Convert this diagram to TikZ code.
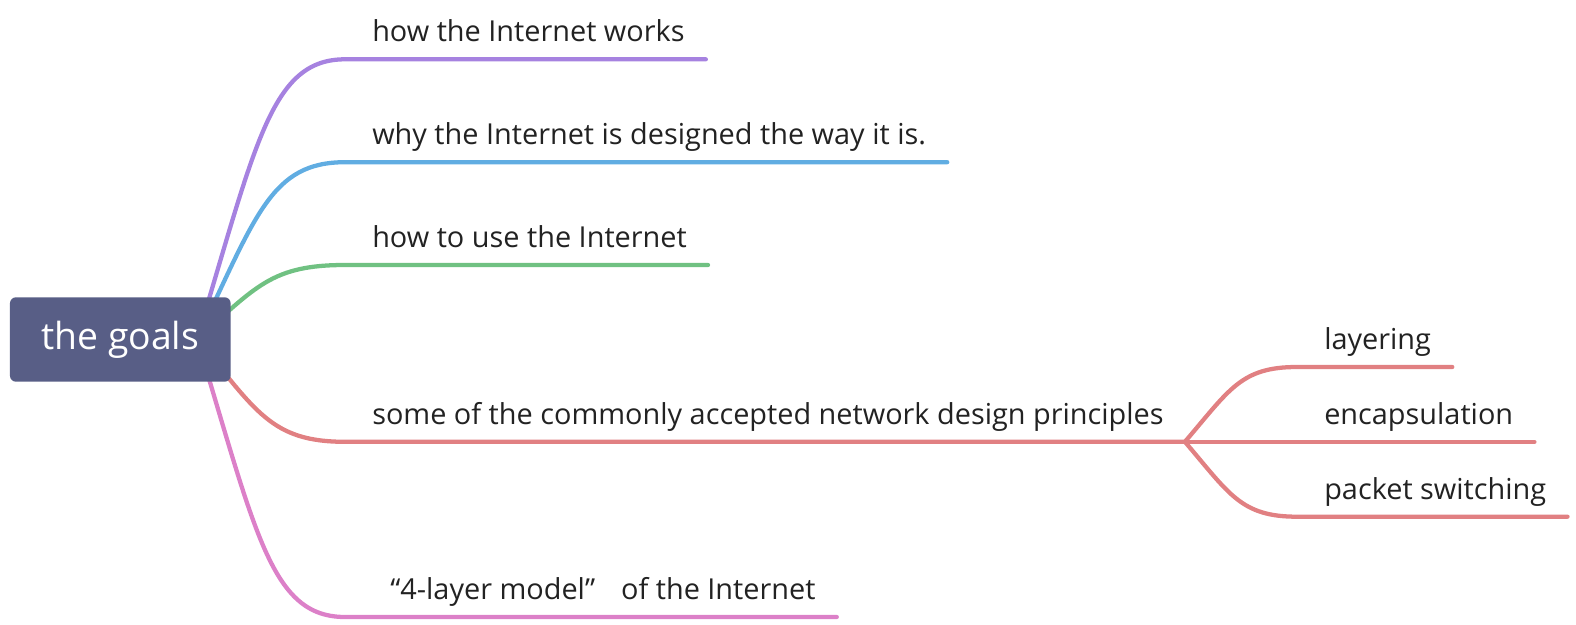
\documentclass[tikz,border=0pt]{standalone}
\usepackage{fontspec}
\setmainfont{Open Sans}
\usetikzlibrary{calc,backgrounds}
\definecolor{cpurple}{RGB}{166,130,224}
\definecolor{cblue}{RGB}{97,173,226}
\definecolor{cgreen}{RGB}{112,193,130}
\definecolor{cred}{RGB}{225,128,130}
\definecolor{cpink}{RGB}{220,128,200}
\definecolor{crootfill}{RGB}{88,94,134}
\definecolor{ctext}{RGB}{34,34,34}
\newcommand{\curvebranch}[4]{%
  \draw[#1] let \p1=(#2), \p2=(#3) in (\p1) .. controls ({\x1+0.4*(\x2-\x1)},{\y1+0.7*(\y2-\y1)}) and ({\x1+0.5*(\x2-\x1)},\y2) .. (\p2) -- (#4);}
\tikzset{
  rootbox/.style={fill=crootfill, rounded corners=4.5pt, minimum width=165.5pt, minimum height=63.3pt, inner sep=0pt, text=white, font=\fontsize{28}{33}\selectfont},
  topic/.style={anchor=base west, inner sep=0pt, text=ctext, font=\fontsize{21.65}{26}\selectfont},
  conn/.style={line width=3.2pt, line cap=round},
}
\begin{document}
\begin{tikzpicture}[x=0.75pt,y=-0.75pt]
\useasboundingbox (0,0) rectangle (1576,624);
\node[rootbox] (root) at (120.3,339.5) {the goals};
\coordinate (rootc) at (197,339);
% main topics
\node[topic] (t1) at (372,41.7) {how the Internet works};
\node[topic] (t2) at (372,144.6) {why the Internet is designed the way it is.};
\node[topic] (t3) at (372,247.4) {how to use the Internet};
\node[topic] (t4) at (372,424.2) {some of the commonly accepted network design principles};
\node[topic] (t5) at (372,599.4) {\hspace*{13.5pt}“4-layer model”\hspace{19.5pt}of the Internet};
% subtopics
\node[topic] (s1) at (1324,349.4) {layering};
\node[topic] (s2) at (1324,424.2) {encapsulation};
\node[topic] (s3) at (1324,499.1) {packet switching};
\foreach \n in {t1,t2,t3,t4,t5,s1,s2,s3}{
  \coordinate (\n s) at ($(\n.base west)+(-27,17.6)$);
  \coordinate (\n e) at ($(\n.base east)+(21,17.6)$);
}
\begin{scope}[on background layer]
\curvebranch{conn,cpurple}{rootc}{t1s}{t1e}
\curvebranch{conn,cblue}{rootc}{t2s}{t2e}
\curvebranch{conn,cgreen}{rootc}{t3s}{t3e}
\curvebranch{conn,cred}{rootc}{t4s}{t4e}
\curvebranch{conn,cpink}{rootc}{t5s}{t5e}
\curvebranch{conn,cred}{t4e}{s1s}{s1e}
\draw[conn,cred] (t4e) -- (s2e);
\curvebranch{conn,cred}{t4e}{s3s}{s3e}
\end{scope}
\end{tikzpicture}
\end{document}
